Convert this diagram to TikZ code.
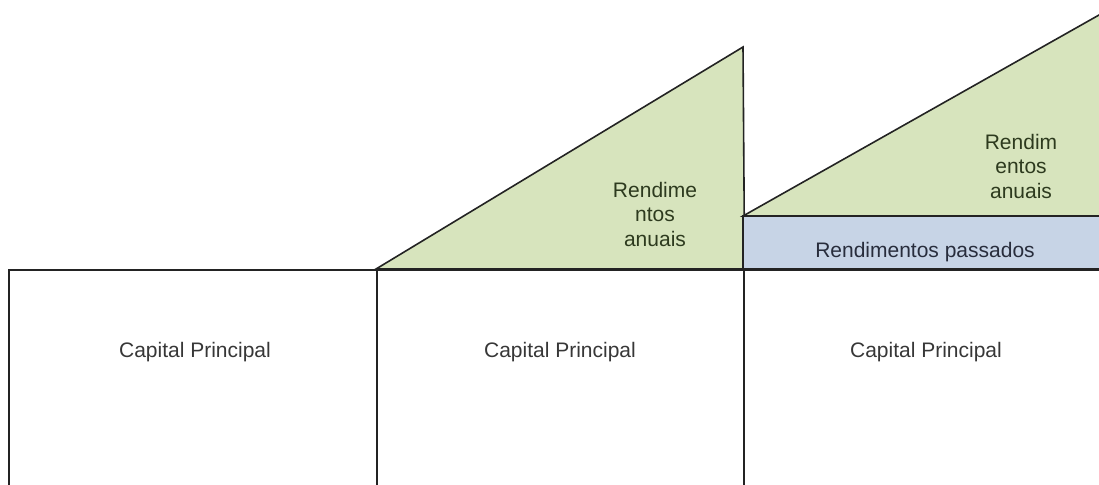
\documentclass[tikz,border=0pt]{standalone}
\usepackage{fontspec}
\setmainfont{Liberation Sans}
\usetikzlibrary{positioning}

\definecolor{verde}{RGB}{215,228,189}
\definecolor{azul}{RGB}{199,212,230}
\definecolor{linha}{RGB}{35,35,35}
\definecolor{txtverde}{RGB}{45,58,30}
\definecolor{txtazul}{RGB}{40,45,60}
\definecolor{txtcinza}{RGB}{55,55,55}

\tikzset{
  caixa/.style={draw=linha, line width=1.6pt, minimum width=#1, minimum height=260pt, anchor=north west, inner sep=0pt},
  rotulo/.style={font=\fontsize{21}{24.5}\selectfont, align=center, inner sep=0pt}
}

\begin{document}
\begin{tikzpicture}[x=1pt,y=-1pt]
\useasboundingbox (0,0) rectangle (1099,484);
\clip (0,0) rectangle (1099,484);

% blocos de capital
\node[caixa=368pt] (C1) at (8,269) {};
\node[caixa=367pt] (C2) at (376,269) {};
\node[caixa=380pt] (C3) at (743,269) {};

% rendimentos
\filldraw[fill=verde, draw=linha, line width=1.6pt] (C2.north west) -- (743,47) -- (C2.north east) -- cycle;
\filldraw[fill=azul, draw=linha, line width=1.6pt] (743,216) rectangle (1130,269);
\filldraw[fill=verde, draw=linha, line width=1.6pt] (743,216) -- (1130,-2.5) -- (1130,216) -- cycle;

\node[rotulo, text=txtcinza] (L1) at (195,352) {Capital Principal};
\node[rotulo, text=txtcinza] (L2) at (560,352) {Capital Principal};
\node[rotulo, text=txtcinza] (L3) at (926,352) {Capital Principal};
\node[rotulo, text=txtazul] (P) at (925,252) {Rendimentos passados};
\node[rotulo, text=txtverde] (A1) at (655,214) {Rendime\\ntos\\anuais};
\node[rotulo, text=txtverde] (A2) at (1021,166) {Rendim\\entos\\anuais};
\end{tikzpicture}
\end{document}
